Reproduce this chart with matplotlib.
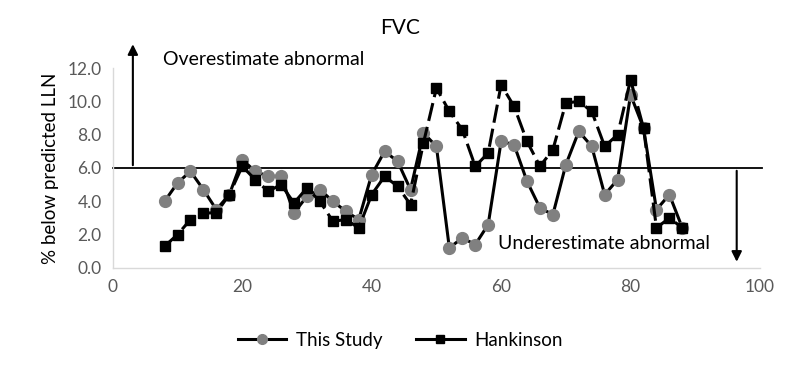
import numpy as np
import matplotlib
matplotlib.use("Agg")
import matplotlib.pyplot as plt
from matplotlib.lines import Line2D

plt.rcParams['font.family'] = ['Lato', 'DejaVu Sans']

# percent along x, every 2 units
pct = list(range(8, 90, 2))

this_study = [4.0, 5.1, 5.8, 4.7, 3.5, 4.4, 6.5, 5.8, 5.5, 5.5, 3.3,
              4.3, 4.7, 4.0, 3.4, 2.9, 5.6, 7.0, 6.4, 4.7, 8.1,
              7.3, 1.2, 1.8, 1.4, 2.6, 7.6, 7.4, 5.2, 3.6, 3.2,
              6.2, 8.2, 7.3, 4.4, 5.3, 10.4, 8.4, 3.5, 4.4, 2.4]
hankinson = [1.3, 2.0, 2.9, 3.3, 3.3, 4.4, 6.1, 5.3, 4.6, 5.0, 3.9,
             4.8, 4.0, 2.8, 2.9, 2.4, 4.4, 5.5, 4.9, 3.8, 7.5,
             10.8, 9.4, 8.3, 6.1, 6.9, 11.0, 9.7, 7.6, 6.1, 7.1,
             9.9, 10.0, 9.4, 7.3, 8.0, 11.3, 8.4, 2.4, 3.0, 2.4]

x_ticks = [0, 20, 40, 60, 80, 100]
y_ticks = [0, 2, 4, 6, 8, 10, 12]
lln_level = 6.0

fig = plt.figure(figsize=(8, 3.7), dpi=100)
ax = fig.add_axes([0.141, 0.276, 0.809, 0.540])

ax.plot(pct, this_study, color='black', lw=2.2, marker='o', ms=8.5,
        mfc='#808080', mec='#808080', zorder=3)
ax.plot(pct, hankinson, color='black', lw=2.2, ls=(0, (6, 2)), marker='s',
        ms=7, mfc='black', mec='black', zorder=4)

ax.axhline(lln_level, color='black', lw=1.3, zorder=2, xmin=0, xmax=1.003, clip_on=False)

# arrows
ax.annotate('', xy=(3.1, 13.6), xytext=(3.1, lln_level), annotation_clip=False,
            arrowprops=dict(arrowstyle='-|>', color='black', lw=1.5, mutation_scale=15))
ax.annotate('', xy=(96.4, 0.2), xytext=(96.4, lln_level), annotation_clip=False,
            arrowprops=dict(arrowstyle='-|>', color='black', lw=1.5, mutation_scale=15))

ax.text(7.7, 12.5, 'Overestimate abnormal', fontsize=14, va='center', ha='left', clip_on=False)
ax.text(59.5, 1.45, 'Underestimate abnormal', fontsize=14, va='center', ha='left')

ax.set_xlim(0, 100)
ax.set_ylim(0, 12)
ax.set_xticks(x_ticks)
ax.set_yticks(y_ticks)
ax.set_yticklabels([f'{v:.1f}' for v in y_ticks])
ax.tick_params(length=0, labelsize=12.5, colors='#595959', pad=8)
for s in ['top', 'right']:
    ax.spines[s].set_visible(False)
for s in ['left', 'bottom']:
    ax.spines[s].set_color('#d9d9d9')
    ax.spines[s].set_linewidth(1)

ax.set_ylabel('% below predicted LLN', fontsize=13.5, labelpad=6)
fig.text(0.5, 0.924, 'FVC', fontsize=15, ha='center', va='center')

handles = [Line2D([], [], color='black', lw=2.2, marker='o', ms=7, mfc='#808080', mec='#808080'),
           Line2D([], [], color='black', lw=2.2, marker='s', ms=6, mfc='black', mec='black')]
fig.legend(handles, ['This Study', 'Hankinson'], loc='center', bbox_to_anchor=(0.5, 0.081),
           ncol=2, frameon=False, fontsize=13.5, handlelength=2.6, columnspacing=1.8,
           handletextpad=0.5)

fig.savefig('out.png', dpi=100)
